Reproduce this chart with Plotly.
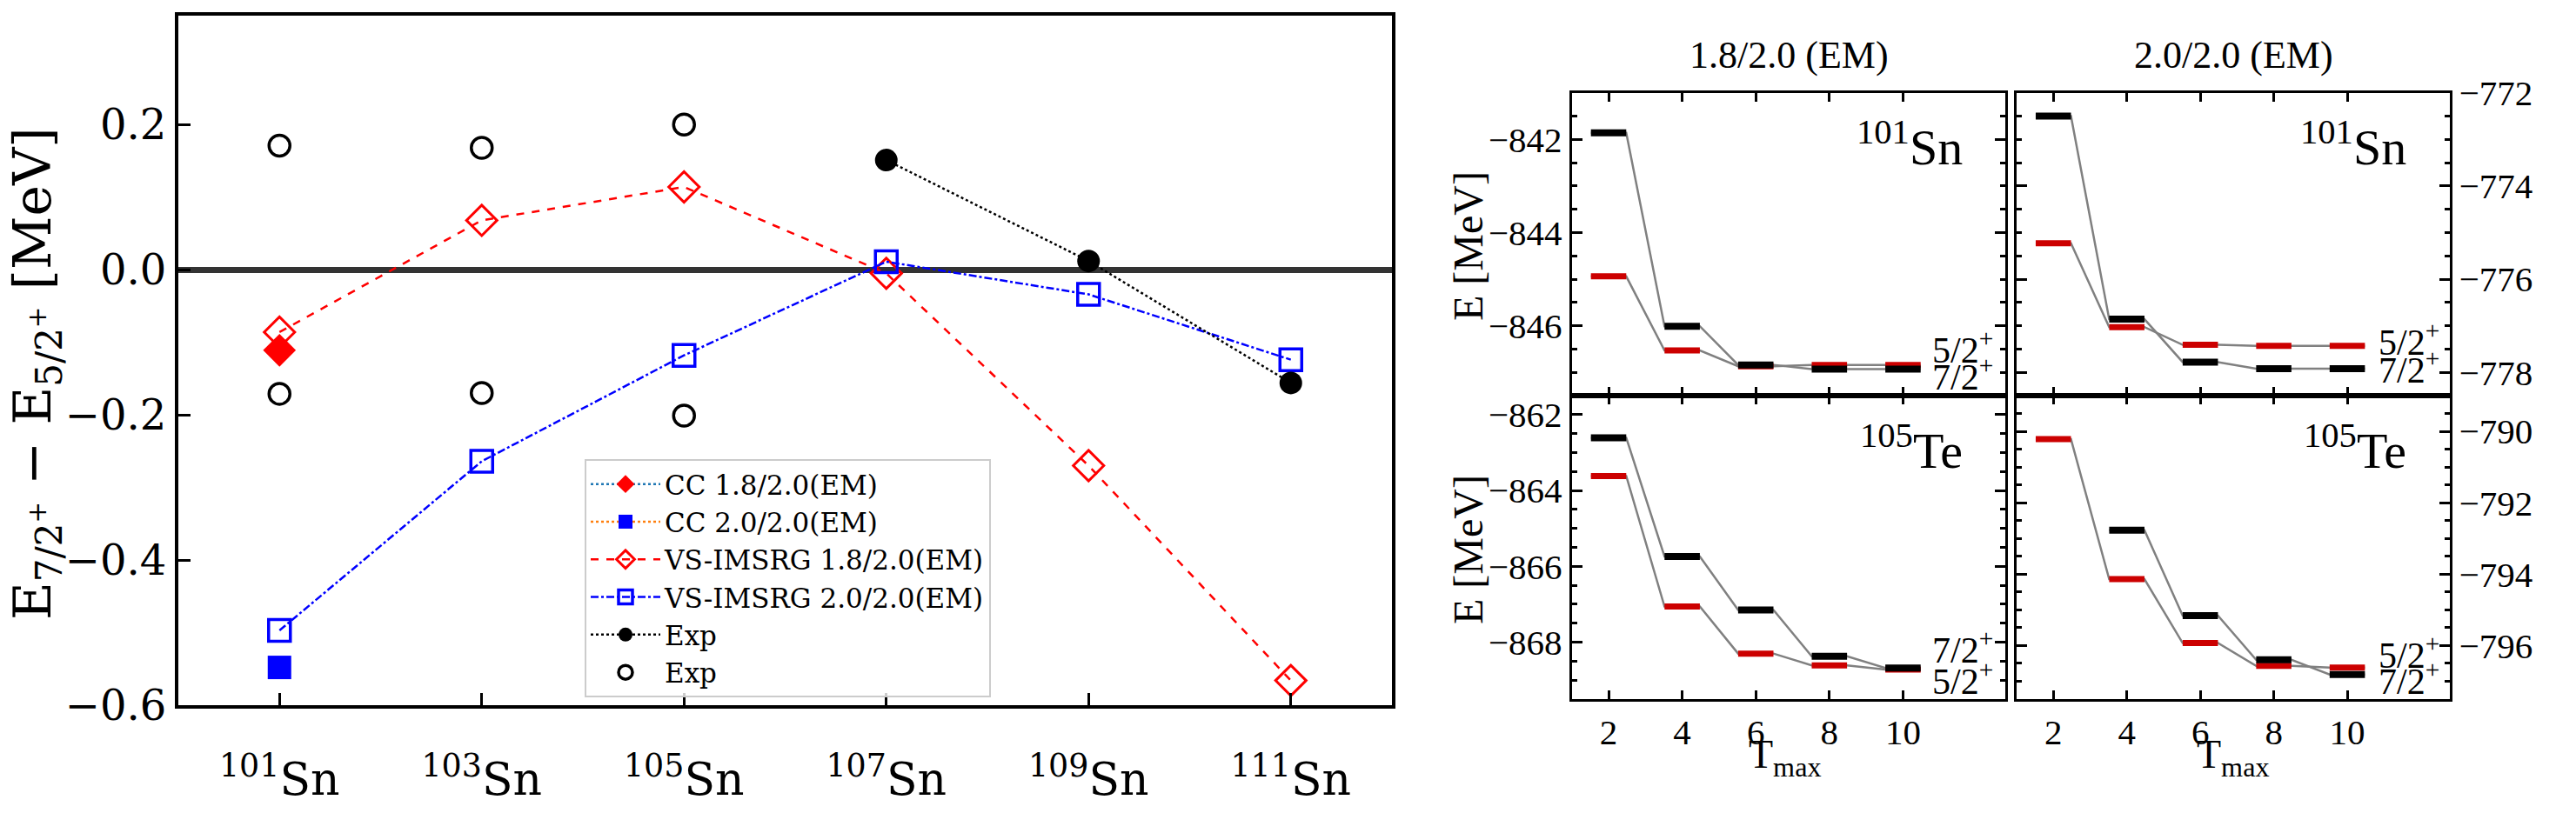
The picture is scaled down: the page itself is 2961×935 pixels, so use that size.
import plotly.graph_objects as go

# ---------------- data: left panel ----------------
nuclei = ["101", "103", "105", "107", "109", "111"]
nuc_idx = list(range(len(nuclei)))
tick_text = ["<sup>%s</sup>Sn" % n for n in nuclei]

cc_18 = [-0.111]            # 101Sn
cc_20 = [-0.548]            # 101Sn
vs_18 = [-0.086, 0.068, 0.114, -0.005, -0.270, -0.566]
vs_20 = [-0.497, -0.264, -0.118, 0.011, -0.034, -0.124]
exp_filled_idx = [3, 4, 5]
exp_filled = [0.151, 0.012, -0.156]
exp_open_idx = [0, 0, 1, 1, 2, 2]
exp_open = [0.171, -0.171, 0.168, -0.170, 0.200, -0.201]

# ---------------- data: right panels ----------------
tmax = [2, 4, 6, 8, 10]
sn101_18_72 = [-841.86, -846.01, -846.84, -846.93, -846.93]
sn101_18_52 = [-844.94, -846.53, -846.87, -846.84, -846.84]
sn101_20_72 = [-772.50, -776.86, -777.78, -777.92, -777.92]
sn101_20_52 = [-775.23, -777.03, -777.41, -777.43, -777.43]
te105_18_72 = [-862.61, -865.74, -867.15, -868.37, -868.68]
te105_18_52 = [-863.62, -867.06, -868.30, -868.61, -868.72]
te105_20_72 = [None, -792.77, -795.16, -796.40, -796.81]
te105_20_52 = [-790.22, -794.14, -795.93, -796.57, -796.62]

SERIF_DV = "DejaVu Serif"
TIMES = "Liberation Serif"

fig = go.Figure()

# ---------------- left panel traces ----------------
fig.add_trace(go.Scatter(
    x=[0], y=cc_18, mode="lines+markers", name="CC 1.8/2.0(EM)", legendgroup="g1",
    line=dict(color="#1f77b4", dash="dot", width=2.5),
    marker=dict(symbol="diamond", size=29, color="#ff0000", line=dict(width=0)),
    xaxis="x", yaxis="y"))
fig.add_trace(go.Scatter(
    x=[0], y=cc_20, mode="lines+markers", name="CC 2.0/2.0(EM)", legendgroup="g2",
    line=dict(color="#ff7f0e", dash="dot", width=2.5),
    marker=dict(symbol="square", size=27, color="#0000ff", line=dict(width=0)),
    xaxis="x", yaxis="y"))
fig.add_trace(go.Scatter(
    x=nuc_idx, y=vs_18, mode="lines+markers", name="VS-IMSRG 1.8/2.0(EM)", legendgroup="g3",
    line=dict(color="#ff0000", dash="dash", width=2.5),
    marker=dict(symbol="diamond-open", size=27, color="#ff0000", line=dict(width=3, color="#ff0000")),
    xaxis="x", yaxis="y"))
fig.add_trace(go.Scatter(
    x=nuc_idx, y=vs_20, mode="lines+markers", name="VS-IMSRG 2.0/2.0(EM)", legendgroup="g4",
    line=dict(color="#0000ff", dash="dashdot", width=2.5),
    marker=dict(symbol="square-open", size=25, color="#0000ff", line=dict(width=3.5, color="#0000ff")),
    xaxis="x", yaxis="y"))
fig.add_trace(go.Scatter(
    x=exp_filled_idx, y=exp_filled, mode="lines+markers", name="Exp", legendgroup="g5",
    line=dict(color="#000000", dash="dot", width=2.5),
    marker=dict(symbol="circle", size=26, color="#000000"),
    xaxis="x", yaxis="y"))
fig.add_trace(go.Scatter(
    x=exp_open_idx, y=exp_open, mode="markers", name="Exp", legendgroup="g6",
    marker=dict(symbol="circle-open", size=24, color="#000000", line=dict(width=3.5, color="#000000")),
    xaxis="x", yaxis="y"))

# ---------------- right panels ----------------
HW = 0.48


def paths(T, E):
    lx, ly, bx, by = [], [], [], []
    for t, e in zip(T, E):
        if e is None:
            lx.append(None); ly.append(None)
            continue
        lx += [t - HW, t + HW]; ly += [e, e]
        bx += [t - HW, t + HW, None]; by += [e, e, None]
    return lx, ly, bx, by


panels = [
    ("x2", "y2", sn101_18_72, sn101_18_52),
    ("x3", "y3", sn101_20_72, sn101_20_52),
    ("x4", "y4", te105_18_72, te105_18_52),
    ("x5", "y5", te105_20_72, te105_20_52),
]
for xa, ya, e72, e52 in panels:
    l72 = paths(tmax, e72)
    l52 = paths(tmax, e52)
    for lp in (l72, l52):
        fig.add_trace(go.Scatter(x=lp[0], y=lp[1], mode="lines", showlegend=False,
                                 line=dict(color="#808080", width=2.5), hoverinfo="skip",
                                 xaxis=xa, yaxis=ya))
    fig.add_trace(go.Scatter(x=l52[2], y=l52[3], mode="lines", showlegend=False,
                             line=dict(color="#cc0000", width=7), xaxis=xa, yaxis=ya))
    fig.add_trace(go.Scatter(x=l72[2], y=l72[3], mode="lines", showlegend=False,
                             line=dict(color="#000000", width=8), xaxis=xa, yaxis=ya))

W, H = 2961, 935


def px(x):
    return x / W


def py(y):
    return 1 - y / H


left_xd = [px(205), px(1600)]
left_yd = [py(811), py(18)]
c1 = [px(1806.7), px(2305)]
c2 = [px(2318), px(2815.5)]
rt = [py(455), py(106.7)]
rb = [py(804), py(455)]

common_right_x = dict(range=[1, 12.78], tickvals=tmax, ticks="inside", ticklen=10, tickwidth=2.5,
                      showline=True, linewidth=3, linecolor="black", mirror="allticks",
                      showgrid=False, zeroline=False, tickcolor="black", automargin=False,
                      tickfont=dict(family=TIMES, size=41, color="black"))
common_right_y = dict(dtick=2, ticks="inside", ticklen=12, tickwidth=2.5, tickformat="d",
                      showline=True, linewidth=3, linecolor="black", mirror="allticks",
                      showgrid=False, zeroline=False, tickcolor="black", automargin=False,
                      minor=dict(dtick=0.5, ticks="inside", ticklen=6, tickwidth=2.5, tickcolor="black"),
                      tickfont=dict(family=TIMES, size=41, color="black"))

fig.update_layout(
    width=W, height=H, margin=dict(l=0, r=0, t=0, b=0, autoexpand=False),
    paper_bgcolor="white", plot_bgcolor="white",
    showlegend=True,
    legend=dict(x=px(672), y=py(528), xanchor="left", yanchor="top",
                bgcolor="rgba(255,255,255,0.8)", bordercolor="#cccccc", borderwidth=2,
                font=dict(family=SERIF_DV, size=31, color="black"),
                itemwidth=80, tracegroupgap=3, traceorder="normal"),
    xaxis=dict(domain=left_xd, anchor="y", range=[-0.5, 5.5], tickvals=nuc_idx, ticktext=tick_text,
               ticks="inside", ticklen=14, tickwidth=3, tickcolor="black", ticklabelstandoff=37,
               showline=True, linewidth=4, linecolor="black", mirror=True,
               showgrid=False, zeroline=False, automargin=False,
               tickfont=dict(family=SERIF_DV, size=52, color="black")),
    yaxis=dict(domain=left_yd, anchor="x", range=[-0.6, 0.35], tickvals=[-0.6, -0.4, -0.2, 0.0, 0.2],
               tickformat=".1f", ticks="inside", ticklen=14, tickwidth=3, tickcolor="black",
               showline=True, linewidth=4, linecolor="black", mirror=True,
               showgrid=False, zeroline=True, zerolinecolor="#333333", zerolinewidth=7,
               automargin=False,
               tickfont=dict(family=SERIF_DV, size=48, color="black")),
    xaxis2=dict(domain=c1, anchor="y2", showticklabels=False, **common_right_x),
    yaxis2=dict(domain=rt, anchor="x2", range=[-847.5, -841], side="left", **common_right_y),
    xaxis3=dict(domain=c2, anchor="y3", showticklabels=False, **common_right_x),
    yaxis3=dict(domain=rt, anchor="x3", range=[-778.5, -772], side="right", **common_right_y),
    xaxis4=dict(domain=c1, anchor="y4", **common_right_x),
    yaxis4=dict(domain=rb, anchor="x4", range=[-869.5, -861.5], side="left", **common_right_y),
    xaxis5=dict(domain=c2, anchor="y5", **common_right_x),
    yaxis5=dict(domain=rb, anchor="x5", range=[-797.5, -789], side="right", **common_right_y),
)

ann = []
# left y label
ann.append(dict(text="E<sub>7/2<sup>+</sup></sub> − E<sub>5/2<sup>+</sup></sub> [MeV]",
                x=px(41), y=py(430), xref="paper", yref="paper", textangle=-90,
                showarrow=False, xanchor="center", yanchor="middle",
                font=dict(family=SERIF_DV, size=60, color="black")))
# column titles
for t, xc in (("1.8/2.0 (EM)", 2056), ("2.0/2.0 (EM)", 2567)):
    ann.append(dict(text=t, x=px(xc), y=py(63), xref="paper", yref="paper", showarrow=False,
                    xanchor="center", yanchor="middle", font=dict(family=TIMES, size=44, color="black")))
# E [MeV]
for yc in (283, 632):
    ann.append(dict(text="E [MeV]", x=px(1687), y=py(yc), xref="paper", yref="paper", textangle=-90,
                    showarrow=False, xanchor="center", yanchor="middle",
                    font=dict(family=TIMES, size=48, color="black")))
# T_max
for xc in (2052, 2567):
    ann.append(dict(text="T<sub>max</sub>", x=px(xc), y=py(871), xref="paper", yref="paper",
                    showarrow=False, xanchor="center", yanchor="middle",
                    font=dict(family=TIMES, size=46, color="black")))
# nucleus labels
for xa, ya, lab in (("x2", "y2", "<sup>101</sup>Sn"), ("x3", "y3", "<sup>101</sup>Sn"),
                    ("x4", "y4", "<sup>105</sup>Te"), ("x5", "y5", "<sup>105</sup>Te")):
    ann.append(dict(text=lab, x=0.905, y=0.83, xref=xa + " domain", yref=ya + " domain",
                    showarrow=False, xanchor="right", yanchor="middle",
                    font=dict(family=TIMES, size=58, color="black")))
# spin labels
spin = [("x2", "y2", 10.74, -846.47, "5/2<sup>+</sup>"), ("x2", "y2", 10.74, -847.04, "7/2<sup>+</sup>"),
        ("x3", "y3", 10.80, -777.30, "5/2<sup>+</sup>"), ("x3", "y3", 10.80, -777.90, "7/2<sup>+</sup>"),
        ("x4", "y4", 10.74, -868.14, "7/2<sup>+</sup>"), ("x4", "y4", 10.74, -868.95, "5/2<sup>+</sup>"),
        ("x5", "y5", 10.80, -796.19, "5/2<sup>+</sup>"), ("x5", "y5", 10.80, -796.92, "7/2<sup>+</sup>")]
for xa, ya, xv, yv, t in spin:
    ann.append(dict(text=t, x=xv, y=yv, xref=xa, yref=ya, showarrow=False,
                    xanchor="left", yanchor="middle", font=dict(family=TIMES, size=42, color="black")))

fig.update_layout(annotations=ann)
fig.write_html("out.html")
